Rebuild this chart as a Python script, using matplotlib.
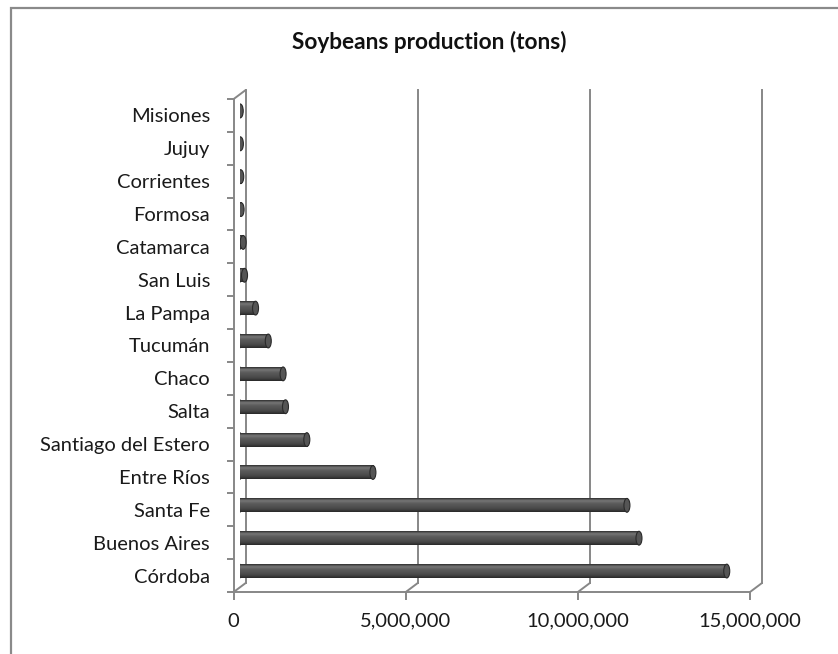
import numpy as np
import matplotlib
matplotlib.use("Agg")
import matplotlib.pyplot as plt
from matplotlib.patches import Ellipse, Rectangle, ConnectionPatch

# data (bottom to top)
provinces = ["Córdoba", "Buenos Aires", "Santa Fe", "Entre Ríos",
             "Santiago del Estero", "Salta", "Chaco", "Tucumán", "La Pampa",
             "San Luis", "Catamarca", "Formosa", "Corrientes", "Jujuy", "Misiones"]
production = [14150000, 11600000, 11250000, 3870000,
              1950000, 1330000, 1260000, 830000, 460000,
              140000, 100000, 40000, 30000, 20000, 15000]
x_ticks = [0, 5000000, 10000000, 15000000]
x_tick_labels = ["0", "5,000,000", "10,000,000", "15,000,000"]
title = "Soybeans production (tons)"

plt.rcParams['font.family'] = ['Lato', 'DejaVu Sans']

W, H = 838, 654
fig = plt.figure(figsize=(W / 100, H / 100), dpi=100)

# front plane of the 3d box, in pixels
left, right, top, bottom = 233.7, 750, 99, 592
DX, DY = 12, 9   # depth offset of the back wall

def pos(dx, dy):
    return [(left + dx) / W, (H - bottom + dy) / H, (right - left) / W, (bottom - top) / H]

xmax = x_ticks[-1]
n = len(provinces)
ylim = (-0.5, n - 0.5)
grid_col = "#878787"

ax_back = fig.add_axes(pos(DX, DY))
ax_mid = fig.add_axes(pos(DX / 2, DY / 2))
ax_front = fig.add_axes(pos(0, 0))

for ax in (ax_back, ax_mid, ax_front):
    ax.set_xlim(0, xmax)
    ax.set_ylim(*ylim)
    ax.patch.set_alpha(0)
    for s in ax.spines.values():
        s.set_visible(False)

# back wall
ax_back.set_xticks([])
ax_back.set_yticks([])
ax_back.spines['left'].set_visible(True)
ax_back.spines['left'].set_color(grid_col)
ax_back.spines['left'].set_linewidth(1.4)
for xv in x_ticks[1:]:
    ax_back.axvline(xv, color=grid_col, lw=1.4, clip_on=False)

# connectors front -> back
for xv in x_ticks:
    fig.add_artist(ConnectionPatch(xyA=(xv, ylim[0]), coordsA=ax_front.transData,
                                   xyB=(xv, ylim[0]), coordsB=ax_back.transData,
                                   color=grid_col, lw=1.4))
fig.add_artist(ConnectionPatch(xyA=(0, ylim[1]), coordsA=ax_front.transData,
                               xyB=(0, ylim[1]), coordsB=ax_back.transData,
                               color=grid_col, lw=1.4))

# cylinders
ax_mid.set_xticks([])
ax_mid.set_yticks([])
shade = np.array([58, 96, 118, 104, 94, 88, 84, 80, 75, 68, 58, 44]) / 255.0
grad = np.repeat(shade[:, None], 3, axis=1)[:, None, :]
bh = 0.42
cap_px = 6
cap_w = cap_px * xmax / (right - left)
for i, v in enumerate(production):
    ax_mid.add_patch(Ellipse((0, i), cap_w, bh, facecolor="#4e4e4e",
                             edgecolor="#3a3a3a", lw=0.6, zorder=2))
    ax_mid.imshow(grad, extent=[0, v, i - bh / 2, i + bh / 2], aspect='auto',
                  interpolation='bilinear', zorder=3)
    ax_mid.add_patch(Ellipse((v, i), cap_w, bh, facecolor="#555555",
                             edgecolor="#2a2a2a", lw=0.8, zorder=4))
ax_mid.set_xlim(0, xmax)
ax_mid.set_ylim(*ylim)

# front axes
ax_front.spines['left'].set_visible(True)
ax_front.spines['bottom'].set_visible(True)
for s in ('left', 'bottom'):
    ax_front.spines[s].set_color(grid_col)
    ax_front.spines[s].set_linewidth(1.4)
ax_front.set_xticks(x_ticks)
ax_front.set_xticklabels(x_tick_labels)
ax_front.set_yticks(range(n))
ax_front.set_yticklabels(provinces)
ax_front.set_yticks(np.arange(-0.5, n, 1.0), minor=True)
ax_front.tick_params(axis='y', which='major', length=0, pad=17, labelsize=14.5, labelcolor="#1a1a1a")
ax_front.tick_params(axis='y', which='minor', length=5, width=1.4, color=grid_col)
ax_front.tick_params(axis='x', length=6, width=1.4, color=grid_col, pad=9, labelsize=14.5, labelcolor="#1a1a1a")

fig.text(429 / W, 1 - 42 / H, title, ha='center', va='center',
         fontsize=16.3, fontweight='bold', color="#111111")

# outer chart border (cut by the image edges)
fig.add_artist(Rectangle((11 / W, -0.05), 1.2, 1.05 - 8 / H, transform=fig.transFigure,
                         fill=False, edgecolor="#8a8a8a", lw=1.6))

fig.savefig("out.png", dpi=100)
